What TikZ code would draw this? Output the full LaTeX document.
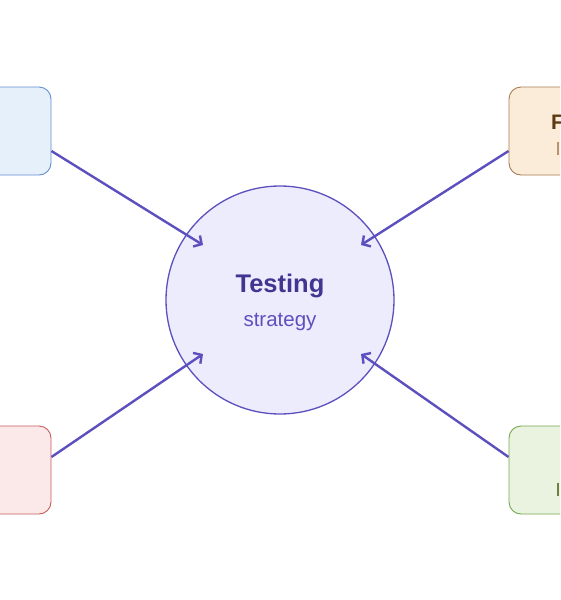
\documentclass[tikz,border=0pt]{standalone}
\usepackage{fontspec}
\setmainfont{Liberation Sans}
\usepackage{xcolor}
\usepackage{tikz}
\usetikzlibrary{arrows.meta}
\definecolor{violet}{RGB}{92,80,190}
\definecolor{darkviolet}{RGB}{64,54,145}
\definecolor{corefill}{RGB}{236,236,252}
\definecolor{bluefill}{RGB}{230,240,250}
\definecolor{blueline}{RGB}{96,144,208}
\definecolor{tanfill}{RGB}{251,236,218}
\definecolor{tanline}{RGB}{168,124,82}
\definecolor{tantext}{RGB}{90,58,18}
\definecolor{redfill}{RGB}{251,233,233}
\definecolor{redline}{RGB}{200,92,92}
\definecolor{greenfill}{RGB}{234,242,224}
\definecolor{greenline}{RGB}{118,168,78}
\definecolor{greentext}{RGB}{80,96,20}

\begin{document}
\begin{tikzpicture}[x=1pt,y=-1pt]
    \tikzstyle{box}=[draw,line width=0.9pt,rounded corners=12pt,minimum width=150pt,minimum height=88pt]
    \tikzstyle{link}=[line width=2.4pt,violet,-{Straight Barb[length=6pt,width=13pt]}]
    \clip (0,0) rectangle (560,600);
    \fill[white] (0,0) rectangle (560,600);
    % Draw the centre circle
    \node[circle,draw=violet,fill=corefill,line width=1.3pt,minimum size=228pt] (core) at (280,300) {};
    \node[font=\bfseries\fontsize{25.5}{28}\selectfont,text=darkviolet] (title) at (280,286) {Testing};
    \node[font=\fontsize{20.5}{24}\selectfont,text=violet] (sub) at (280,322) {strategy};
    % Draw the corner boxes
    \node[box,draw=blueline,fill=bluefill] (tl) at (-24,131) {};
    \node[box,draw=tanline,fill=tanfill] (tr) at (584,131) {};
    \node[box,draw=redline,fill=redfill] (bl) at (-24,470) {};
    \node[box,draw=greenline,fill=greenfill] (br) at (584,470) {};
    \node[anchor=west,font=\bfseries\fontsize{21}{24}\selectfont,text=tantext,inner sep=0pt] (trA) at (551,122) {F};
    \node[anchor=west,font=\fontsize{18}{22}\selectfont,text=tanline,inner sep=0pt] (trB) at (556,149) {l};
    \node[anchor=west,font=\fontsize{18}{22}\selectfont,text=greentext,inner sep=0pt] (brB) at (556,490) {l};
    % Draw the arrows into the circle
    \coordinate (tipTL) at (203,245); \coordinate (tipTR) at (361,245);
    \coordinate (tipBL) at (203,354); \coordinate (tipBR) at (361,354);
    \draw[link] ([yshift=-20pt]tl.east) -- (tipTL);
    \draw[link] ([yshift=-20pt]tr.west) -- (tipTR);
    \draw[link] ([yshift=13pt]bl.east) -- (tipBL);
    \draw[link] ([yshift=13pt]br.west) -- (tipBR);
\end{tikzpicture}
\end{document}
